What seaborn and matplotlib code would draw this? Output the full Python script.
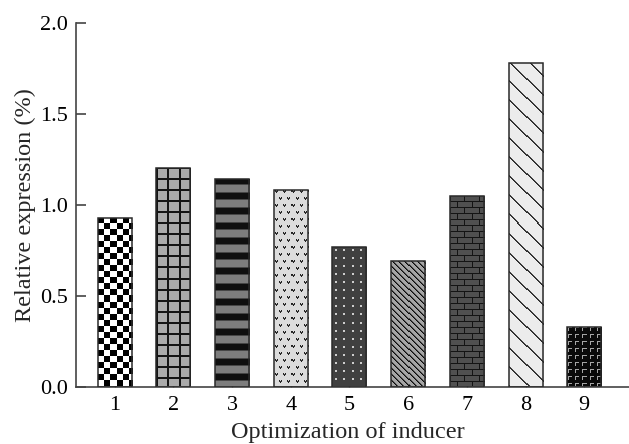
import numpy as np
import matplotlib
matplotlib.use("Agg")
import matplotlib.pyplot as plt
import seaborn as sns

# datos
tratamientos = ["1", "2", "3", "4", "5", "6", "7", "8", "9"]
expresion = [0.925, 1.20, 1.139, 1.080, 0.765, 0.69, 1.049, 1.777, 0.329]
y_ticks = [0.0, 0.5, 1.0, 1.5, 2.0]


# texturas de relleno (en pixeles, escala de grises 0-255)
def tile_checker():
    r, c = np.mgrid[0:12, 0:12]
    return np.where(((r // 6) + (c // 6)) % 2 == 0, 0, 255)


def tile_grid():
    t = np.full((11, 11), 170)
    t[0:2, :] = 20
    t[:, 0:2] = 20
    return t


def tile_stripes():
    t = np.full((15, 4), 125)
    t[0:6, :] = 15
    t[6, :] = 70
    t[14, :] = 70
    return t


def tile_vmarks():
    t = np.full((14, 8), 220)
    t[1, [1, 3]] = 30
    t[2, [1, 2, 3]] = 50
    t[3, 2] = 30
    t[8, [5, 7]] = 30
    t[9, [5, 6, 7]] = 50
    t[10, 6] = 30
    return t


def tile_dots():
    t = np.full((8, 8), 64)
    t[3:5, 3:5] = 205
    return t


def tile_diag_dense():
    r, c = np.mgrid[0:6, 0:6]
    t = np.full((6, 6), 165)
    t[(c - r) % 6 == 0] = 10
    t[(c - r) % 6 == 1] = 80
    return t


def tile_bricks():
    t = np.full((12, 14), 80)
    t[0, :] = 20
    t[6, :] = 20
    t[1:6, 0] = 20
    t[7:12, 7] = 20
    return t


def tile_diag_sparse():
    r, c = np.mgrid[0:19, 0:19]
    t = np.full((19, 19), 236)
    t[(c - r) % 19 == 0] = 40
    t[(c - r) % 19 == 1] = 70
    return t


def tile_gamma():
    t = np.full((7, 7), 10)
    t[1, 1:5] = 165
    t[1:5, 1] = 165
    return t


texturas = [tile_checker, tile_grid, tile_stripes, tile_vmarks, tile_dots,
            tile_diag_dense, tile_bricks, tile_diag_sparse, tile_gamma]

sns.set_style("ticks")
plt.rcParams["font.family"] = ["Liberation Serif", "DejaVu Serif"]

fig = plt.figure(figsize=(6.29, 4.44), dpi=100)
ax = fig.add_axes([76 / 629, 57.5 / 444, 553 / 629, 363.8 / 444])

sns.barplot(x=tratamientos, y=expresion, width=0.58, color="white",
            edgecolor="#2a2a2a", linewidth=1.1, ax=ax, zorder=3)

ax.set_xlim(-0.659, 8.763)
ax.set_ylim(0, 2.0)
ax.set_yticks(y_ticks)
ax.set_yticklabels([f"{v:.1f}" for v in y_ticks])
ax.set_autoscale_on(False)

# rellenar cada barra con su textura
for bar, hacer_tile in zip(ax.patches, texturas):
    x0 = bar.get_x()
    x1 = x0 + bar.get_width()
    h = bar.get_height()
    p0 = ax.transData.transform((x0, 0))
    p1 = ax.transData.transform((x1, h))
    w_px = int(round(abs(p1[0] - p0[0])))
    h_px = int(round(abs(p1[1] - p0[1])))
    tile = hacer_tile()
    reps = (h_px // tile.shape[0] + 2, w_px // tile.shape[1] + 2)
    tex = np.tile(tile, reps)[:h_px, :w_px]
    tex = tex[::-1]  # empezar el patron desde abajo
    im = ax.imshow(tex, cmap="gray", vmin=0, vmax=255, extent=(x0, x1, 0, h),
                   origin="lower", interpolation="nearest", aspect="auto", zorder=2)
    im.set_clip_path(bar)
    bar.set_facecolor("none")

ax.set_xlim(-0.659, 8.763)
ax.set_ylim(0, 2.0)

sns.despine(ax=ax)
for lado in ["left", "bottom"]:
    ax.spines[lado].set_color("#444444")
    ax.spines[lado].set_linewidth(1.2)

ax.tick_params(axis="y", direction="in", length=7, width=1.2, color="#444444",
               labelsize=16, pad=6, labelcolor="black")
ax.tick_params(axis="x", direction="in", length=4, width=1, color="#444444",
               labelsize=16, pad=7, labelcolor="black")

ax.set_xlabel("Optimization of inducer", fontsize=17.5, labelpad=5)
ax.xaxis.label.set_x(0.492)
ax.set_ylabel("Relative expression (%)", fontsize=17.5, labelpad=3)

fig.savefig("out.png", dpi=100)
